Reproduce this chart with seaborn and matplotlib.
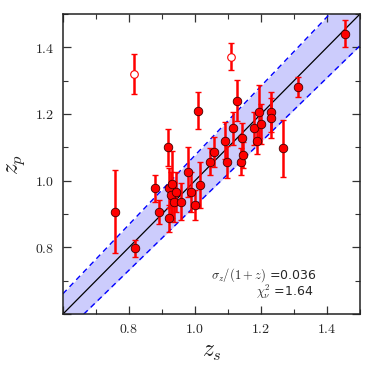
import numpy as np
import pandas as pd
import matplotlib
matplotlib.use("Agg")
import matplotlib.pyplot as plt
import seaborn as sns
from matplotlib.ticker import MultipleLocator, FuncFormatter

# spectroscopic z, photometric z, error on photometric z (filled points)
zs = [0.757, 0.819, 0.880, 0.891, 0.919, 0.920, 0.922, 0.930, 0.927, 0.943,
      0.935, 0.958, 0.980, 0.987, 1.001, 1.008, 1.016, 1.045, 1.058, 1.092,
      1.098, 1.114, 1.126, 1.138, 1.143, 1.146, 1.180, 1.194, 1.199, 1.189,
      1.229, 1.229, 1.265, 1.311, 1.455]
zp = [0.907, 0.797, 0.977, 0.907, 1.100, 0.887, 0.977, 0.989, 0.957, 0.965,
      0.937, 0.937, 1.027, 0.967, 0.927, 1.210, 0.987, 1.057, 1.087, 1.120,
      1.057, 1.157, 1.240, 1.057, 1.128, 1.077, 1.157, 1.207, 1.169, 1.120,
      1.207, 1.188, 1.097, 1.280, 1.441]
zp_err = [0.125, 0.025, 0.04, 0.036, 0.055, 0.04, 0.06, 0.10, 0.07, 0.06,
          0.06, 0.055, 0.075, 0.06, 0.045, 0.055, 0.07, 0.04, 0.045, 0.055,
          0.048, 0.05, 0.062, 0.04, 0.045, 0.04, 0.05, 0.08, 0.06, 0.04,
          0.06, 0.06, 0.085, 0.03, 0.04]

# outliers (open circles)
zs_out = [0.815, 1.108]
zp_out = [1.320, 1.372]
zp_out_err = [0.06, 0.04]

sigma_nmad = 0.036
chi2_nu = 1.64
band_k = 0.038

df = pd.DataFrame({"zs": zs, "zp": zp, "err": zp_err})
df_out = pd.DataFrame({"zs": zs_out, "zp": zp_out, "err": zp_out_err})

sns.set_style("ticks")
plt.rcParams["mathtext.fontset"] = "cm"
plt.rcParams["font.family"] = ["DejaVu Sans"]

fig = plt.figure(figsize=(3.74, 3.74), dpi=100)
ax = fig.add_axes([0.168, 0.160, 0.795, 0.803])

# 1:1 line and scatter band
grid = np.array([0.6, 1.5])
ax.fill_between(grid, grid - band_k * (1 + grid), grid + band_k * (1 + grid),
                color="#ccccfc", lw=0, zorder=0)
ax.plot(grid, grid + band_k * (1 + grid), ls=(0, (4, 3)), color="blue", lw=1.0, zorder=1)
ax.plot(grid, grid - band_k * (1 + grid), ls=(0, (4, 3)), color="blue", lw=1.0, zorder=1)
ax.plot(grid, grid, color="black", lw=0.9, zorder=1)

# error bars
ax.errorbar(df["zs"], df["zp"], yerr=df["err"], fmt="none", ecolor="red",
            elinewidth=1.8, capsize=2.5, capthick=1.0, zorder=2)
ax.errorbar(df_out["zs"], df_out["zp"], yerr=df_out["err"], fmt="none", ecolor="red",
            elinewidth=1.8, capsize=2.5, capthick=1.0, zorder=2)

# points
sns.scatterplot(data=df, x="zs", y="zp", ax=ax, color="red", edgecolor="#400000",
                linewidth=0.6, s=38, zorder=3)
sns.scatterplot(data=df_out, x="zs", y="zp", ax=ax, color="white", edgecolor="red",
                linewidth=0.8, s=30, zorder=3)

ax.set_xlim(0.6, 1.5)
ax.set_ylim(0.6, 1.5)

ax.xaxis.set_major_locator(MultipleLocator(0.2))
ax.yaxis.set_major_locator(MultipleLocator(0.2))
ax.xaxis.set_minor_locator(MultipleLocator(0.1))
ax.yaxis.set_minor_locator(MultipleLocator(0.1))
# no label at the 0.6 corner
fmt = FuncFormatter(lambda v, p: "" if v < 0.65 else r"$%.1f$" % v)
ax.xaxis.set_major_formatter(fmt)
ax.yaxis.set_major_formatter(fmt)
ax.tick_params(which="both", direction="in", top=True, right=True, color="#333333")
ax.tick_params(which="major", length=6, width=0.9, labelsize=10, pad=6)
ax.tick_params(which="minor", length=3.5, width=0.8)
for s in ax.spines.values():
    s.set_linewidth(1.1)
    s.set_color("#222222")

ax.set_xlabel(r"$z_s$", fontsize=17, labelpad=2)
ax.set_ylabel(r"$z_p$", fontsize=17, labelpad=6)

ax.text(0.852, 0.130, r"$\sigma_z/(1+z)$ =%.3f" % sigma_nmad, transform=ax.transAxes,
        ha="right", va="center", fontsize=9)
ax.text(0.843, 0.074, r"$\chi^2_\nu$ =%.2f" % chi2_nu, transform=ax.transAxes,
        ha="right", va="center", fontsize=9)

fig.savefig("out.png", dpi=100)
